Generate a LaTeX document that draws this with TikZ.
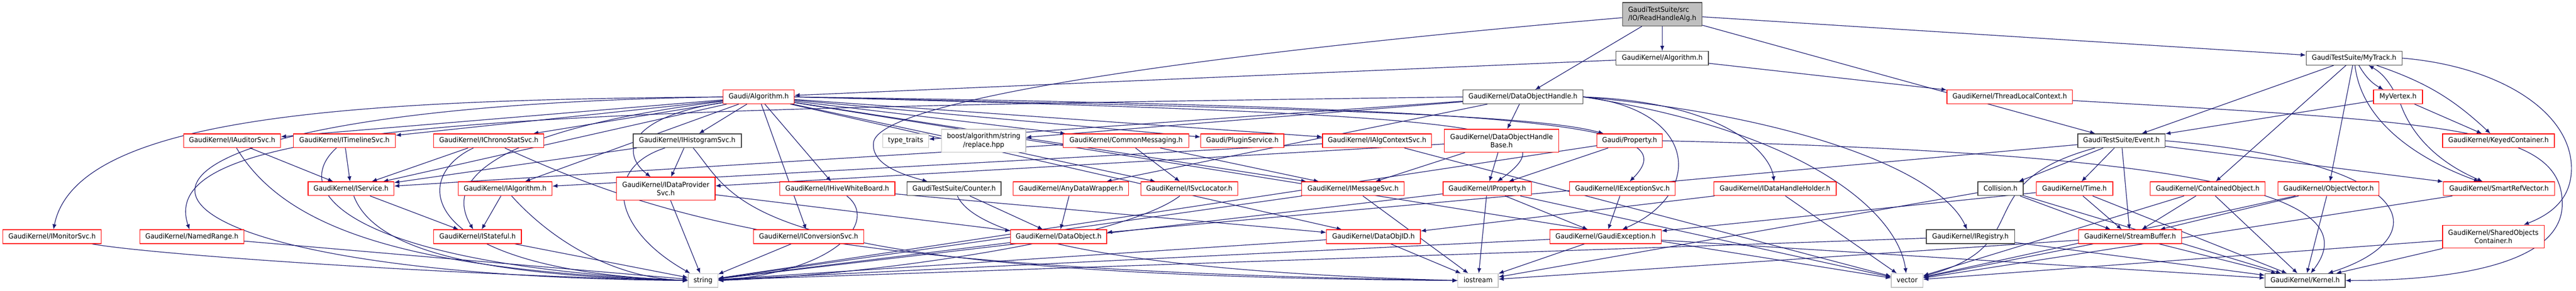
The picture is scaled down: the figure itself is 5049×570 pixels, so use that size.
\documentclass[tikz,border=0pt]{standalone}
\usepackage{fontspec}
\setmainfont{DejaVu Sans}[FakeStretch=0.94]
\usetikzlibrary{arrows.meta}
\pgfdeclarelayer{bg}
\pgfsetlayers{bg,main}
\definecolor{edgec}{HTML}{191970}
\definecolor{redb}{HTML}{FF0000}
\definecolor{grayf}{HTML}{BFBFBF}
\definecolor{extb}{HTML}{C0C0C0}
\definecolor{blkb}{HTML}{404040}
\tikzset{
  nb/.style={draw, fill=white, line width=1pt, inner sep=0pt, minimum height=20.25pt,
    font=\fontsize{10.3pt}{12.3pt}\selectfont},
  nd/.style={nb, text height=7.7pt, text depth=2.2pt},
  two/.style={align=center, minimum height=33.75pt},
  rn/.style={nd, draw=redb},
  rt/.style={nb, two, draw=redb},
  bn/.style={nd, draw=blkb},
  gn/.style={nd, draw=extb},
  gt/.style={nb, two, draw=extb},
  wd/.style={minimum width=#1*0.75pt},
  ed/.style={draw=edgec, line width=0.9pt, -{Latex[length=7.5pt,width=6pt]}}
}
\begin{document}
\begin{tikzpicture}[x=0.75pt, y=-0.75pt]
\useasboundingbox (0,0) rectangle (5049,570);
\begin{pgfonlayer}{bg}
\fill[white] (0,0) rectangle (5049,570);
\end{pgfonlayer}
% Row A
\node[nb, draw=blkb, fill=grayf, align=left, minimum height=34.5pt, wd=156] (RHA) at (3258,28) {GaudiTestSuite/src\\/IO/ReadHandleAlg.h};
% Row B
\node[bn, wd=181] (GKAlg) at (3258,114) {GaudiKernel/Algorithm.h};
\node[bn, wd=188] (MyTrack) at (4614,114) {GaudiTestSuite/MyTrack.h};
% Row C
\node[rn, wd=139] (GAlg) at (1487,190) {Gaudi/Algorithm.h};
\node[bn, wd=235] (DOH) at (2985,190) {GaudiKernel/DataObjectHandle.h};
\node[rn, wd=246] (TLC) at (3939,190) {GaudiKernel/ThreadLocalContext.h};
\node[rn, wd=96] (MyVertex) at (4700,190) {MyVertex.h};
% Row D
\node[rn, wd=190] (IAud) at (455,276) {GaudiKernel/IAuditorSvc.h};
\node[rn, wd=200] (ITime) at (675,276) {GaudiKernel/ITimelineSvc.h};
\node[rn, wd=216] (IChrono) at (958,276) {GaudiKernel/IChronoStatSvc.h};
\node[bn, wd=212] (IHist) at (1347,276) {GaudiKernel/IHistogramSvc.h};
\node[gn, wd=90] (TT) at (1775,276) {type\_traits};
\node[gt, wd=165] (Boost) at (1928,276) {boost/algorithm/string\\/replace.hpp};
\node[rn, wd=246] (CMsg) at (2207,276) {GaudiKernel/CommonMessaging.h};
\node[rn, wd=163] (Plugin) at (2435,276) {Gaudi/PluginService.h};
\node[rn, wd=214] (IAlgCtx) at (2699,276) {GaudiKernel/IAlgContextSvc.h};
\node[rt, wd=224] (DOHB) at (2943,276) {GaudiKernel/DataObjectHandle\\Base.h};
\node[rn, wd=128] (GProp) at (3194,276) {Gaudi/Property.h};
\node[bn, wd=171] (Event) at (4158,276) {GaudiTestSuite/Event.h};
\node[rn, wd=219] (Keyed) at (4897,276) {GaudiKernel/KeyedContainer.h};
% Row E
\node[rn, wd=168] (ISvc) at (688,370) {GaudiKernel/IService.h};
\node[rn, wd=184] (IAlgo) at (990,370) {GaudiKernel/IAlgorithm.h};
\node[rt, wd=193] (IDP) at (1305,370) {GaudiKernel/IDataProvider\\Svc.h};
\node[rn, wd=226] (IHive) at (1641,370) {GaudiKernel/IHiveWhiteBoard.h};
\node[bn, wd=184] (Counter) at (1870,370) {GaudiTestSuite/Counter.h};
\node[rn, wd=226] (ADW) at (2099,370) {GaudiKernel/AnyDataWrapper.h};
\node[rn, wd=190] (ISvcLoc) at (2331,370) {GaudiKernel/ISvcLocator.h};
\node[rn, wd=201] (IMsg) at (2652,370) {GaudiKernel/IMessageSvc.h};
\node[rn, wd=173] (IProp) at (2915,370) {GaudiKernel/IProperty.h};
\node[rn, wd=207] (IExc) at (3180,370) {GaudiKernel/IExceptionSvc.h};
\node[rn, wd=240] (IDHH) at (3479,370) {GaudiKernel/IDataHandleHolder.h};
\node[bn, wd=89] (Coll) at (3921,370) {Collision.h};
\node[rn, wd=150] (Time) at (4066,370) {GaudiKernel/Time.h};
\node[rn, wd=225] (Cont) at (4327,370) {GaudiKernel/ContainedObject.h};
\node[rn, wd=198] (ObjVec) at (4564,370) {GaudiKernel/ObjectVector.h};
\node[rn, wd=218] (SRV) at (4898,370) {GaudiKernel/SmartRefVector.h};
% Row F
\node[rn, wd=193] (IMon) at (102,464) {GaudiKernel/IMonitorSvc.h};
\node[rn, wd=204] (NR) at (376,464) {GaudiKernel/NamedRange.h};
\node[rn, wd=172] (IStat) at (936,464) {GaudiKernel/IStateful.h};
\node[rn, wd=216] (IConv) at (1585,464) {GaudiKernel/IConversionSvc.h};
\node[rn, wd=188] (DObj) at (2075,464) {GaudiKernel/DataObject.h};
\node[rn, wd=184] (DOID) at (2692,464) {GaudiKernel/DataObjID.h};
\node[rn, wd=218] (GExc) at (3147,464) {GaudiKernel/GaudiException.h};
\node[bn, wd=173] (IReg) at (3862,464) {GaudiKernel/IRegistry.h};
\node[rn, wd=202] (SB) at (4175,464) {GaudiKernel/StreamBuffer.h};
\node[rt, wd=199] (SOC) at (4887,464) {GaudiKernel/SharedObjects\\Container.h};
% Row G
\node[gn, wd=58] (str) at (1378,550) {string};
\node[gn, wd=79] (ios) at (2897,550) {iostream};
\node[gn, wd=62] (vec) at (3738,550) {vector};
\node[bn, wd=157] (Kern) at (4518,550) {GaudiKernel/Kernel.h};

\begin{pgfonlayer}{bg}
% ReadHandleAlg
\draw[ed] (RHA) -- (GKAlg);
\draw[ed] (RHA) -- (DOH);
\draw[ed] (RHA) .. controls (2300,110) and (1720,200) .. (1712,280) .. controls (1708,320) and (1760,340) .. (Counter);
\draw[ed] (RHA) -- (MyTrack);
\draw[ed] (RHA) -- (Event);
% GaudiKernel/Algorithm.h
\draw[ed] (GKAlg) -- (GAlg);
\draw[ed] (GKAlg) -- (TLC);
% Gaudi/Algorithm.h
\draw[ed] (GAlg.west) .. controls (700,196) and (150,225) .. (IMon);
\draw[ed] (GAlg) -- (IAud);
\draw[ed] (GAlg) -- (ITime);
\draw[ed] (GAlg) -- (ISvc);
\draw[ed] (GAlg) -- (IChrono);
\draw[ed] (GAlg) .. controls (1080,240) and (850,320) .. (IStat);
\draw[ed] (GAlg) .. controls (1230,230) and (1215,300) .. (IDP);
\draw[ed] (GAlg) -- (IAlgo);
\draw[ed] (GAlg) -- (IHist);
\draw[ed] (GAlg) -- (IConv);
\draw[ed] (GAlg) -- (IHive);
\draw[ed] (GAlg.west) .. controls (0,212) and (100,540) .. (str.west);
\draw[ed] (GAlg) -- (CMsg);
\draw[ed] (GAlg) -- (Plugin);
\draw[ed] (GAlg) -- (IAlgCtx);
\draw[ed] (GAlg.east) .. controls (2500,212) and (3000,222) .. (GProp);
\draw[ed] (GAlg) -- (ISvcLoc);
\draw[ed] (GAlg) -- (IMsg);
\draw[ed] (GAlg.east) .. controls (2900,225) and (3090,245) .. (IProp);
\draw[ed] (GAlg.east) .. controls (3100,212) and (3300,250) .. (IExc);
\draw[ed] (GAlg) -- (DOID);
\draw[ed] (GAlg) -- (vec);
% DataObjectHandle.h
\draw[ed] (DOH) -- (TT);
\draw[ed] (DOH) -- (Boost);
\draw[ed] (DOH) -- (ADW);
\draw[ed] (DOH) -- (DOHB);
\draw[ed] (DOH.west) .. controls (1000,215) and (300,235) .. (NR);
\draw[ed] (DOH.east) .. controls (3330,215) and (3340,380) .. (GExc);
\draw[ed] (DOH.east) .. controls (3500,225) and (3800,330) .. (IReg);
\draw[ed] (DOH.east) .. controls (3380,200) and (3470,300) .. (IDHH);
\draw[ed] (DOH.east) .. controls (3550,260) and (3720,420) .. (vec);
% row D sources
\draw[ed] (IAud) -- (ISvc);
\draw[ed] (IAud) .. controls (560,450) and (800,530) .. (str.west);
\draw[ed] (ITime) -- (ISvc);
\draw[ed] (ITime) .. controls (560,380) and (700,520) .. (str.west);
\draw[ed] (IChrono) -- (ISvc);
\draw[ed] (IChrono) .. controls (800,350) and (820,530) .. (str.west);
\draw[ed] (IChrono) .. controls (1300,430) and (1600,530) .. (ios.west);
\draw[ed] (IHist) -- (IDP);
\draw[ed] (IHist) -- (ISvc);
\draw[ed] (IHist) .. controls (1180,330) and (1200,450) .. (str);
\draw[ed] (IHist) .. controls (1450,400) and (1450,540) .. (ios.west);
\draw[ed] (CMsg) -- (ISvc);
\draw[ed] (CMsg) -- (ISvcLoc);
\draw[ed] (CMsg) -- (IMsg);
\draw[ed] (IAlgCtx) -- (IAlgo);
\draw[ed] (IAlgCtx) -- (vec);
\draw[ed] (DOHB) -- (IDP);
\draw[ed] (DOHB) -- (IMsg);
\draw[ed] (DOHB) -- (IProp);
\draw[ed] (GProp) -- (IProp);
\draw[ed] (GProp) -- (str);
\draw[ed] (GProp.east) .. controls (4300,300) and (4650,380) .. (Kern);
% row E sources
\draw[ed] (ISvc) .. controls (730,480) and (900,540) .. (str.west);
\draw[ed] (ISvc) -- (IStat);
\draw[ed] (IAlgo) -- (IStat);
\draw[ed] (IAlgo) .. controls (1080,470) and (1200,545) .. (str.west);
\draw[ed] (IDP) -- (str);
\draw[ed] (IDP) -- (DObj);
\draw[ed] (IHive) .. controls (1720,430) and (1650,530) .. (str.east);
\draw[ed] (IHive) -- (DOID);
\draw[ed] (Counter) -- (DObj);
\draw[ed] (Counter) .. controls (1920,480) and (2300,535) .. (ios.west);
\draw[ed] (ADW) -- (DObj);
\draw[ed] (ISvcLoc) .. controls (2200,470) and (1700,540) .. (str.east);
\draw[ed] (IMsg) -- (str);
\draw[ed] (IMsg) -- (ios);
\draw[ed] (IProp) -- (str);
\draw[ed] (IProp) -- (ios);
\draw[ed] (IProp) -- (GExc);
\draw[ed] (IProp) -- (vec);
\draw[ed] (IExc) -- (GExc);
\draw[ed] (IDHH) -- (DOID);
\draw[ed] (IDHH) -- (vec);
% row F sources
\draw[ed] (IMon) .. controls (300,500) and (900,540) .. (str.west);
\draw[ed] (NR) -- (str);
\draw[ed] (IStat) -- (str);
\draw[ed] (IConv) -- (str);
\draw[ed] (DObj) -- (str);
\draw[ed] (DOID) -- (ios);
\draw[ed] (DOID) -- (str);
\draw[ed] (GExc) -- (ios);
\draw[ed] (GExc) -- (str);
\draw[ed] (GExc) -- (Kern);
\draw[ed] (IReg) -- (str);
\draw[ed] (IReg) -- (Kern);
% right part
\draw[ed] (TLC) .. controls (4800,240) and (5022,250) .. (5022,400) .. controls (5022,520) and (4800,550) .. (Kern);
\draw[ed] (Event) -- (Coll);
\draw[ed] (Event) -- (Time);
\draw[ed] (Event) -- (SB);
\draw[ed] (Event) .. controls (3850,360) and (4000,480) .. (vec);
\draw[ed] (Event.east) .. controls (4760,320) and (4770,470) .. (Kern);
\draw[ed] (Event) -- (SRV);
\draw[ed] (Event) -- (DObj);
\draw[ed] (Coll) -- (SB);
\draw[ed] (Coll) -- (Kern);
\draw[ed] (Coll) -- (ios);
\draw[ed] (Time) -- (SB);
\draw[ed] (Time) -- (Kern);
\draw[ed] (Time) -- (GExc);
\draw[ed] (Cont) -- (SB);
\draw[ed] (Cont) -- (vec);
\draw[ed] (Cont) -- (Kern);
\draw[ed] (ObjVec) -- (SB);
\draw[ed] (ObjVec) -- (vec);
\draw[ed] (ObjVec) -- (Kern);
\draw[ed] (SRV) -- (vec);
\draw[ed] (SB) -- (vec);
\draw[ed] (SB) -- (Kern);
\draw[ed] (SB) -- (ios);
\draw[ed] (SOC) -- (vec);
\draw[ed] (SOC) -- (Kern);
\draw[ed] (MyVertex) -- (Event);
\draw[ed] (MyVertex) -- (Keyed);
\draw[ed] (MyVertex) .. controls (4740,300) and (4830,340) .. (SRV);
\draw[ed] (MyVertex) to[bend right=15] (MyTrack);
\draw[ed] (MyTrack) -- (Event);
\draw[ed] (MyTrack) -- (Cont);
\draw[ed] (MyTrack) -- (ObjVec);
\draw[ed] (MyTrack) .. controls (4630,250) and (4760,320) .. (SRV);
\draw[ed] (MyTrack) to[bend right=15] (MyVertex);
\draw[ed] (MyTrack) to[bend left=12] (Keyed);
\draw[ed] (MyTrack.east) .. controls (4900,130) and (5040,220) .. (5040,330) .. controls (5040,390) and (5000,420) .. (SOC);
\end{pgfonlayer}
\end{tikzpicture}
\end{document}
